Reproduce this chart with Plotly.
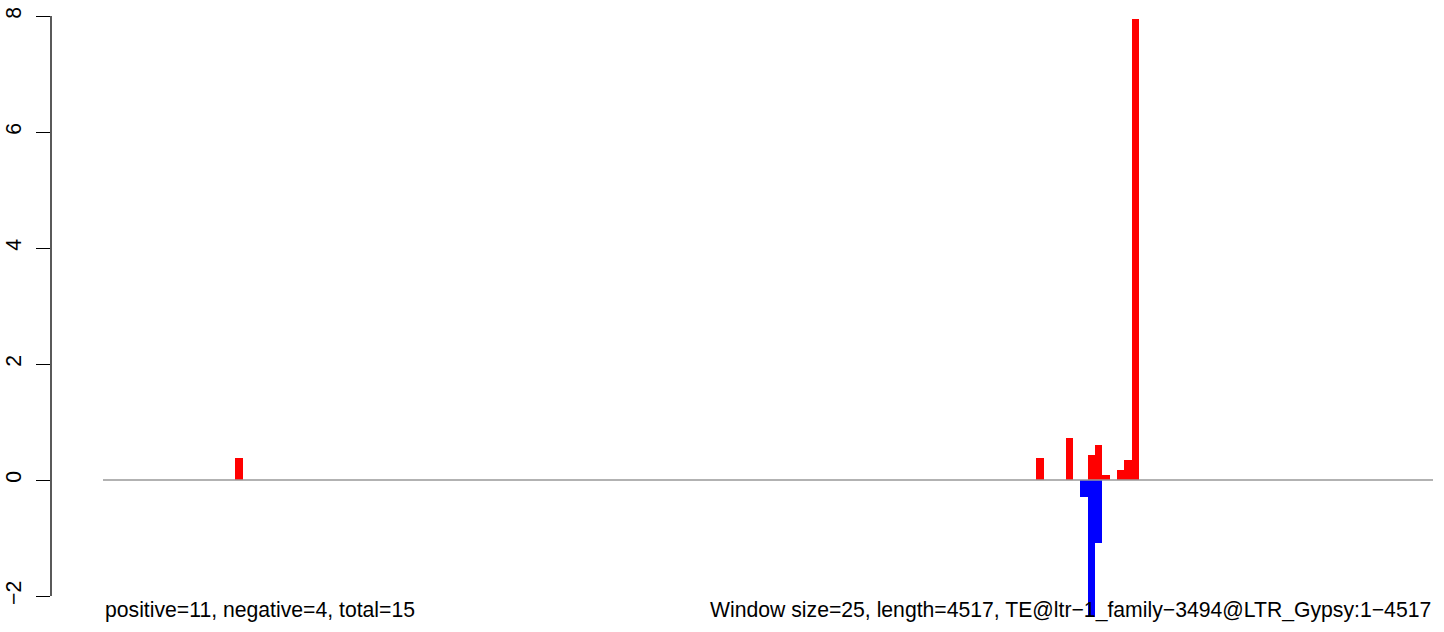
import plotly.graph_objects as go

# ---- data ----
window_size = 25
seq_length = 4517
n_windows = 181
pos_windows = [18, 127, 131, 134, 135, 136, 138, 139, 140]
pos_values = [0.38, 0.38, 0.72, 0.43, 0.60, 0.09, 0.17, 0.34, 7.95]
neg_windows = [133, 134, 135]
neg_values = [-0.29, -2.36, -1.09]
y_ticks = [-2, 0, 2, 4, 6, 8]
left_label = "positive=11, negative=4, total=15"
right_label = "Window size=25, length=4517, TE@ltr\u22121_family\u22123494@LTR_Gypsy:1\u22124517"

FIG_W, FIG_H = 1444, 632
ML = 51
x_end = n_windows * window_size
px_per_unit = 1330 / x_end
x_left = -(103 - ML) / px_per_unit
x_right = x_left + (FIG_W - ML) / px_per_unit

# y scale: 58 px per unit, 0 at px 480 from figure top
y_top = 480 / 58
y_bottom = y_top - FIG_H / 58

FONT = "Liberation Sans, Arial, Helvetica, sans-serif"
FS = 21.2

fig = go.Figure()
fig.add_trace(go.Scatter(x=[0, x_end], y=[0, 0], mode="lines",
                         line=dict(color="#999999", width=1.5),
                         hoverinfo="skip", showlegend=False))
fig.add_trace(go.Bar(x=[w * window_size + window_size / 2 for w in pos_windows],
                     y=pos_values, width=window_size,
                     marker=dict(color="#FF0000", line=dict(width=0)),
                     showlegend=False))
fig.add_trace(go.Bar(x=[w * window_size + window_size / 2 for w in neg_windows],
                     y=neg_values, width=window_size,
                     marker=dict(color="#0000FF", line=dict(width=0)),
                     showlegend=False))

fig.add_annotation(x=0, y=-2.24, xref="x", yref="y", text=left_label,
                   showarrow=False, xanchor="left", yanchor="middle",
                   font=dict(family=FONT, size=FS, color="black"))
fig.add_annotation(x=x_end, y=-2.24, xref="x", yref="y", text=right_label,
                   showarrow=False, xanchor="right", yanchor="middle",
                   font=dict(family=FONT, size=FS, color="black"))

# y-axis line only between first and last tick (R style)
fig.add_shape(type="line", xref="paper", yref="y", x0=0, x1=0,
              y0=y_ticks[0], y1=y_ticks[-1], line=dict(color="black", width=1.3))

fig.update_layout(
    width=FIG_W, height=FIG_H,
    margin=dict(l=ML, r=0, t=0, b=0, autoexpand=False),
    plot_bgcolor="white", paper_bgcolor="white",
    barmode="overlay", bargap=0,
    xaxis=dict(range=[x_left, x_right], visible=False, showgrid=False, zeroline=False,
               automargin=False),
    yaxis=dict(range=[y_bottom, y_top], showgrid=False, zeroline=False, showline=False,
               automargin=False, ticklabeloverflow="allow",
               tickmode="array", tickvals=y_ticks,
               ticktext=[str(v).replace("-", "\u2212") for v in y_ticks],
               ticks="outside", ticklen=14, tickwidth=1.3, tickcolor="black",
               ticklabelstandoff=7,
               tickangle=-90, tickfont=dict(family=FONT, size=FS, color="black")),
)

fig.write_html("out.html", config={"displayModeBar": False},
               post_script="document.body.style.margin='0';")
